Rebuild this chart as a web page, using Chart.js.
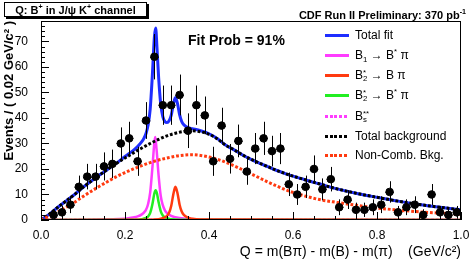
<!DOCTYPE html>
<html>
<head>
<meta charset="utf-8">
<script src="https://cdn.jsdelivr.net/npm/chart.js@4.4.1/dist/chart.umd.min.js"></script>
<style>
  body { margin: 0; background: #fff; }
  #wrap { position: relative; width: 471px; height: 263px; font-family: "Liberation Sans", Arial, sans-serif; color: #000; }
  #grafica { position: absolute; left: 0; top: 0; }
  .txt { position: absolute; white-space: nowrap; line-height: 1; }
  .txt sup, .txt sub { font-size: 65%; line-height: 0; }
  .caja { left: 4px; top: 2px; width: 141px; height: 13px; border: 1px solid #000; box-shadow: 2px 2px 0 #000;
          background: #fff; font-weight: bold; font-size: 11px; text-align: center; line-height: 14px; }
  .cdf { right: 5px; top: 10px; font-weight: bold; font-size: 11px; }
  .prob { left: 188px; top: 33px; font-weight: bold; font-size: 14px; }
  .leyenda { font-size: 12px; }
  .muestra { position: absolute; width: 24px; }
  .ss { display: inline-block; vertical-align: -2px; font-size: 65%; line-height: 0.8; text-align: left; }
  .ss span { display: block; }
</style>
</head>
<body>
<div id="wrap">
  <canvas id="grafica" width="471" height="263"></canvas>
  <div class="txt caja">Q: B<sup>+</sup> in J/ψ K<sup>+</sup> channel</div>
  <div class="txt cdf">CDF Run II Preliminary: 370 pb<sup>-1</sup></div>
  <div class="txt prob">Fit Prob = 91%</div>
</div>
<script>
// DATOS ////////////////////////////////////////////////////
// Histograma: centro del bin (GeV/c2), eventos y error
const binQ = [0.03, 0.05, 0.07, 0.09, 0.11, 0.13, 0.15, 0.17, 0.19, 0.21,
              0.23, 0.25, 0.27, 0.29, 0.31, 0.33, 0.35, 0.37, 0.39, 0.41,
              0.43, 0.45, 0.47, 0.49, 0.51, 0.53, 0.55, 0.57, 0.59, 0.61,
              0.63, 0.65, 0.67, 0.69, 0.71, 0.73, 0.75, 0.77, 0.79, 0.81,
              0.83, 0.85, 0.87, 0.89, 0.91, 0.93, 0.95, 0.97, 0.99];
const binN = [2, 3, 6, 13, 17, 17, 21, 22, 30, 32,
              23, 39, 64, 45, 45, 49, 35, 45, 41, 23,
              37, 24, 31, 19, 28, 32, 27, 28, 14, 10,
              13, 20, 12, 16, 5, 8, 4, 4, 5, 6,
              11, 3, 5, 6, 2, 10, 3, 2, 3];
const binErr = [2.2, 2.5, 3.3, 4.4, 5, 5, 5.5, 5.6, 6.3, 6.5,
                5.7, 7.2, 8.9, 7.7, 7.7, 8, 6.8, 7.7, 7.4, 5.7,
                7, 5.8, 6.4, 5.2, 6.1, 6.5, 6, 6.1, 4.6, 4.1,
                4.4, 5.3, 4.3, 4.8, 3.1, 3.7, 2.8, 2.8, 3.1, 3.3,
                4.2, 2.5, 3.1, 3.3, 2.2, 4.1, 2.5, 2.2, 2.5];

// Curva del ajuste total
const fitQ = [0, 0.02, 0.04, 0.06, 0.08, 0.10, 0.12, 0.14, 0.16, 0.18, 0.20,
              0.22, 0.23, 0.24, 0.245, 0.25, 0.255, 0.26, 0.265, 0.27, 0.273, 0.276, 0.28, 0.285, 0.29,
              0.295, 0.30, 0.305, 0.31, 0.315, 0.32, 0.325, 0.33, 0.335, 0.34, 0.35, 0.36, 0.38, 0.40, 0.42,
              0.44, 0.46, 0.48, 0.50, 0.52, 0.54, 0.56, 0.58, 0.60, 0.62, 0.64, 0.66, 0.68, 0.70,
              0.75, 0.80, 0.85, 0.90, 0.95, 1.0];
const totalFit = [0, 2.3, 5, 7.5, 10, 12.8, 15.3, 17.7, 20, 22.3, 24.9,
                  27.3, 28.8, 30.7, 32, 33.9, 37.2, 43.5, 56.4, 71.8, 75.3, 68, 56, 45.5, 40.5,
                  38.6, 38.2, 38.9, 41, 45.2, 48, 45.6, 41.3, 38.6, 37.3, 36.2, 35.8, 35, 33.8, 31.9,
                  29.3, 27.5, 25.5, 23.8, 22.3, 20.9, 19.5, 18.3, 17.2, 16.2, 15.2, 14.3, 13.3, 12.4,
                  10.5, 8.9, 7.4, 6.1, 5, 4];

// Fondos
const bkgQ = [0, 0.02, 0.04, 0.06, 0.08, 0.10, 0.12, 0.14, 0.16, 0.18,
              0.20, 0.22, 0.24, 0.26, 0.28, 0.30, 0.32, 0.34, 0.36, 0.38,
              0.40, 0.42, 0.44, 0.46, 0.48, 0.50, 0.52, 0.54, 0.56, 0.58,
              0.60, 0.62, 0.64, 0.66, 0.68, 0.70, 0.75, 0.80, 0.85, 0.90, 0.95, 1.0];
const totalBkg = [0, 2.3, 5, 7.5, 10, 12.8, 15.3, 17.7, 20, 22.2,
                  24.3, 26.3, 28.2, 30, 31.6, 33, 34, 34.7, 35, 34.6,
                  33.6, 31.8, 29.3, 27.5, 25.5, 23.8, 22.3, 20.9, 19.5, 18.3,
                  17.2, 16.2, 15.2, 14.3, 13.3, 12.4, 10.5, 8.9, 7.4, 6.1, 5, 4];
const nonCombBkg = [0, 1.5, 3.2, 5, 7, 9.2, 11.3, 13.3, 15.2, 17,
                    18.6, 20, 21.3, 22.5, 23.5, 24.3, 25, 25.4, 25.6, 25.3,
                    24.7, 23.8, 22.6, 21.2, 19.7, 18.1, 16.5, 14.9, 13.4, 12,
                    10.8, 9.8, 8.9, 8.1, 7.5, 7, 5.8, 4.7, 3.9, 3.2, 2.7, 2.3];

// Señales
const b1Q = [0, 0.20, 0.22, 0.23, 0.24, 0.245, 0.25, 0.255, 0.26, 0.265, 0.27, 0.272,
             0.275, 0.28, 0.285, 0.29, 0.295, 0.30, 0.31, 0.32, 0.34, 0.40, 1.0];
const b1Val = [0, 0.5, 1, 1.4, 2.2, 2.9, 4, 6.3, 10.8, 20, 30.5, 32.5,
               28, 17.5, 9.5, 5.8, 3.8, 2.7, 1.6, 1.1, 0.6, 0.2, 0];
const b2BstQ = [0, 0.23, 0.24, 0.25, 0.255, 0.26, 0.265, 0.27, 0.273, 0.276,
                0.28, 0.285, 0.29, 0.30, 0.31, 0.33, 1.0];
const b2BstVal = [0, 0.1, 0.3, 0.8, 1.4, 2.8, 6, 10.5, 11.7, 10.5,
                  7, 3.5, 1.8, 0.7, 0.3, 0.1, 0];
const b2BQ = [0, 0.26, 0.28, 0.29, 0.30, 0.305, 0.31, 0.315, 0.32, 0.325,
              0.33, 0.335, 0.34, 0.35, 0.36, 0.38, 1.0];
const b2BVal = [0, 0.1, 0.3, 0.7, 1.6, 2.8, 5.5, 10, 13, 10.5,
                6, 3.3, 2, 0.9, 0.5, 0.2, 0];
const bsQ = [0, 1.0];
const bsVal = [0, 0];

// Ejes
const yTicks = [0, 10, 20, 30, 40, 50, 60, 70];
const xTicks = [0.0, 0.2, 0.4, 0.6, 0.8, 1.0];

// Colores
const azul = '#1e2dff';
const rosa = '#ff3cff';
const rojo = '#ff3a10';
const verde = '#22ee22';
const negro = '#000000';

const fuente = '"Liberation Sans", Arial, sans-serif';

function juntar(xs, ys) {
    return xs.map((x, i) => ({ x: x, y: ys[i] }));
}

function curva(label, xs, ys, color, dash, ancho) {
    return {
        label: label,
        type: 'line',
        data: juntar(xs, ys),
        borderColor: color,
        borderWidth: ancho,
        borderDash: dash,
        pointRadius: 0,
        fill: false,
        cubicInterpolationMode: 'monotone'
    };
}

const punteado = [2.8, 1.9];

// Leyenda (se dibuja como texto html encima del canvas)
const leyenda = [
    { html: 'Total fit', color: azul, dash: false },
    { html: 'B<sub>1</sub> → B<sup>*</sup> π', color: rosa, dash: false },
    { html: 'B<span class="ss"><span>*</span><span>2</span></span> → B π', color: rojo, dash: false },
    { html: 'B<span class="ss"><span>*</span><span>2</span></span> → B<sup>*</sup> π', color: verde, dash: false },
    { html: 'B<span class="ss"><span>**</span><span>s</span></span>', color: rosa, dash: true },
    { html: 'Total background', color: negro, dash: true },
    { html: 'Non-Comb. Bkg.', color: rojo, dash: true }
];
const leyendaY = [35, 55, 75, 95, 116, 136, 155];

const wrap = document.getElementById('wrap');
leyenda.forEach((e, i) => {
    let m = document.createElement('div');
    m.className = 'muestra';
    m.style.left = '325px';
    if (e.dash) {
        m.style.top = (leyendaY[i] - 1.5) + 'px';
        m.style.height = '3px';
        m.style.background = `repeating-linear-gradient(to right, ${e.color} 0 2.8px, transparent 2.8px 4.7px)`;
    } else {
        m.style.top = (leyendaY[i] - 1.5) + 'px';
        m.style.height = '3px';
        m.style.background = e.color;
    }
    wrap.appendChild(m);
    let t = document.createElement('div');
    t.className = 'txt leyenda';
    t.style.left = '355px';
    t.style.top = (leyendaY[i] - 6) + 'px';
    t.innerHTML = e.html;
    wrap.appendChild(t);
});

// Barras de error, marco y marcas hacia dentro (estilo ROOT)
const marcas = {
    id: 'marcas',
    beforeDatasetDraw(chart, args) {
        if (args.index !== 0) return;
        const ctx = chart.ctx;
        const sx = chart.scales.x, sy = chart.scales.y;
        ctx.save();
        ctx.strokeStyle = '#000';
        ctx.lineWidth = 1;
        ctx.beginPath();
        binQ.forEach((q, i) => {
            const px = sx.getPixelForValue(q);
            const py = sy.getPixelForValue(binN[i]);
            const top = sy.getPixelForValue(binN[i] + binErr[i]);
            const bot = sy.getPixelForValue(Math.max(0, binN[i] - binErr[i]));
            ctx.moveTo(Math.round(px) + 0.5, top);
            ctx.lineTo(Math.round(px) + 0.5, bot);
            ctx.moveTo(sx.getPixelForValue(q - 0.01), Math.round(py) + 0.5);
            ctx.lineTo(sx.getPixelForValue(q + 0.01), Math.round(py) + 0.5);
        });
        ctx.stroke();
        ctx.restore();
    },
    afterDatasetsDraw(chart) {
        const ctx = chart.ctx;
        const a = chart.chartArea;
        const sx = chart.scales.x, sy = chart.scales.y;
        ctx.save();
        ctx.strokeStyle = '#000';
        ctx.lineWidth = 1;
        ctx.strokeRect(a.left + 0.5, a.top + 0.5, a.right - a.left - 1, a.bottom - a.top - 1);
        ctx.beginPath();
        // eje y: mayores cada 10, menores cada 2
        for (let v = 0; v <= 78; v += 2) {
            const py = Math.round(sy.getPixelForValue(v)) + 0.5;
            const len = v % 10 === 0 ? 8 : 4;
            ctx.moveTo(a.left, py);
            ctx.lineTo(a.left + len, py);
        }
        // eje x: mayores cada 0.2, menores cada 0.05
        for (let k = 0; k <= 20; k++) {
            const px = Math.round(sx.getPixelForValue(k * 0.05)) + 0.5;
            const len = k % 4 === 0 ? 8 : 4;
            ctx.moveTo(px, a.bottom);
            ctx.lineTo(px, a.bottom - len);
        }
        ctx.stroke();
        ctx.restore();
    }
};

const config = {
    type: 'scatter',
    data: {
        datasets: [
            {
                label: 'Datos',
                data: juntar(binQ, binN),
                backgroundColor: '#000',
                borderColor: '#000',
                pointRadius: 3.8,
                pointHoverRadius: 3.8
            },
            curva('Non-Comb. Bkg.', bkgQ, nonCombBkg, rojo, punteado, 3),
            curva('Total background', bkgQ, totalBkg, negro, punteado, 3),
            curva('Total fit', fitQ, totalFit, azul, [], 3),
            curva('B2* -> B pi', b2BQ, b2BVal, rojo, [], 2.5),
            curva('B2* -> B* pi', b2BstQ, b2BstVal, verde, [], 2.5),
            curva('B1 -> B* pi', b1Q, b1Val, rosa, [], 2.5),
            curva('Bs**', bsQ, bsVal, rosa, punteado, 3)
        ]
    },
    options: {
        responsive: false,
        animation: false,
        devicePixelRatio: 1,
        layout: { padding: { top: 21, right: 10, left: 0, bottom: 0 } },
        plugins: {
            legend: { display: false },
            tooltip: { enabled: false }
        },
        scales: {
            x: {
                type: 'linear',
                min: 0,
                max: 1,
                grid: { display: false },
                border: { display: false },
                afterBuildTicks: s => { s.ticks = xTicks.map(v => ({ value: v })); },
                ticks: {
                    callback: v => v.toFixed(1),
                    font: { family: fuente, size: 12 },
                    color: '#000',
                    padding: 0,
                    maxRotation: 0,
                    autoSkip: false
                },
                title: {
                    display: true,
                    text: 'Q = m(Bπ) - m(B) - m(π)    (GeV/c²)',
                    align: 'end',
                    color: '#000',
                    font: { family: fuente, size: 14 },
                    padding: { top: 0, bottom: 2 }
                },
                afterFit: s => { s.height = 43; }
            },
            y: {
                min: 0,
                max: 78,
                grid: { display: false },
                border: { display: false },
                afterBuildTicks: s => { s.ticks = yTicks.map(v => ({ value: v })); },
                ticks: {
                    font: { family: fuente, size: 12 },
                    color: '#000',
                    padding: 5
                },
                title: {
                    display: true,
                    text: 'Events / ( 0.02 GeV/c² )',
                    align: 'end',
                    color: '#000',
                    font: { family: fuente, size: 13, weight: 'bold' },
                    padding: { top: 2, bottom: 0 }
                },
                afterFit: s => { s.width = 41; }
            }
        }
    },
    plugins: [marcas]
};

const grafica = new Chart(document.getElementById('grafica'), config);
</script>
</body>
</html>
